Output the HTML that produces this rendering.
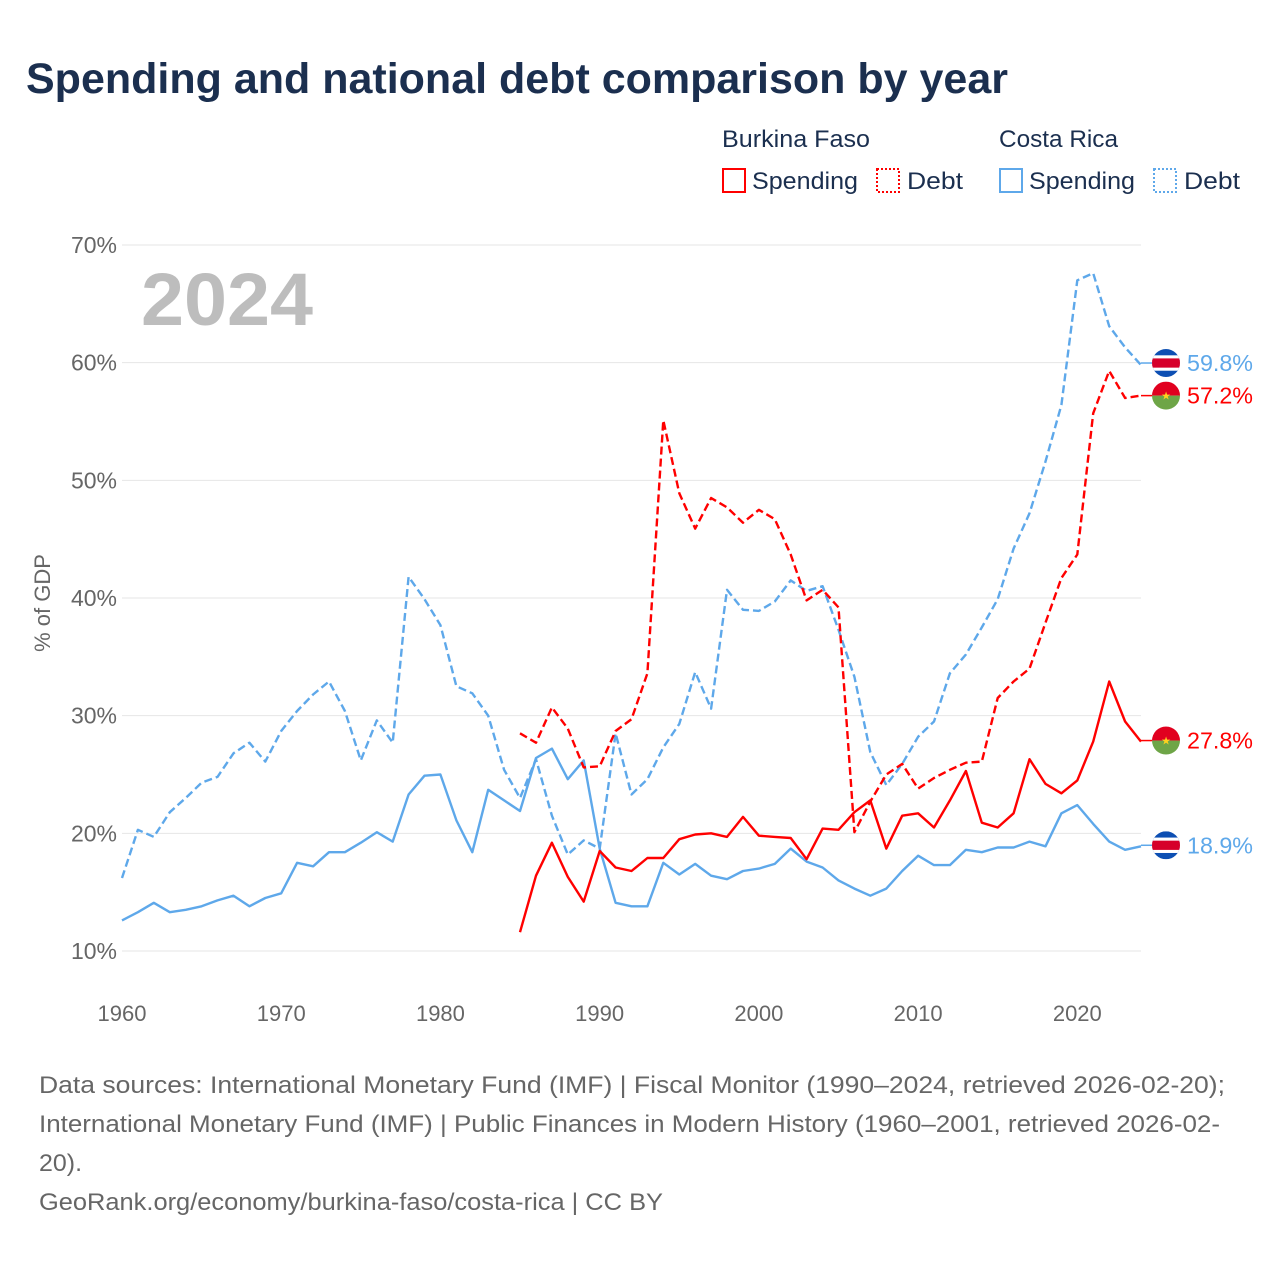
<!DOCTYPE html>
<html><head><meta charset="utf-8">
<style>
html,body{margin:0;padding:0;background:#fff;}
body{width:1280px;height:1280px;position:relative;overflow:hidden;font-family:"Liberation Sans",sans-serif;}
svg text{font-family:"Liberation Sans",sans-serif;}
</style></head>
<body>
<svg id="chart" width="1280" height="1280" viewBox="0 0 1280 1280" xmlns="http://www.w3.org/2000/svg">
  <text x="26" y="93" font-size="43" font-weight="bold" fill="#1b2f4f" textLength="982" lengthAdjust="spacingAndGlyphs">Spending and national debt comparison by year</text>
  <g font-size="24" fill="#1b2f4f">
    <text x="722" y="147" textLength="148" lengthAdjust="spacingAndGlyphs">Burkina Faso</text>
    <text x="999" y="147" textLength="119" lengthAdjust="spacingAndGlyphs">Costa Rica</text>
    <g>
      <rect x="723" y="169" width="22" height="23" fill="none" stroke="#ff0000" stroke-width="2"/>
      <text x="752" y="189" textLength="106" lengthAdjust="spacingAndGlyphs">Spending</text>
    </g>
    <g>
      <rect x="877" y="169" width="22" height="23" fill="none" stroke="#ff0000" stroke-width="2" stroke-dasharray="2,2"/>
      <text x="907" y="189" textLength="56" lengthAdjust="spacingAndGlyphs">Debt</text>
    </g>
    <g>
      <rect x="1000" y="169" width="22" height="23" fill="none" stroke="#5ea8ea" stroke-width="2"/>
      <text x="1029" y="189" textLength="106" lengthAdjust="spacingAndGlyphs">Spending</text>
    </g>
    <g>
      <rect x="1154" y="169" width="22" height="23" fill="none" stroke="#5ea8ea" stroke-width="2" stroke-dasharray="2,2"/>
      <text x="1184" y="189" textLength="56" lengthAdjust="spacingAndGlyphs">Debt</text>
    </g>
  </g>
  <g id="grid"></g>
  <g id="yticks" font-size="23" fill="#666" text-anchor="end"></g>
  <g id="xticks" font-size="22" fill="#666" text-anchor="middle"></g>
  <text transform="translate(50,603) rotate(-90)" font-size="22" fill="#666" text-anchor="middle">% of GDP</text>
  <text x="141" y="325" font-size="74" font-weight="bold" fill="#bdbdbd" textLength="172" lengthAdjust="spacingAndGlyphs">2024</text>
  <g id="series"></g>
  <g id="endlabels"></g>
  <g font-size="24" fill="#666">
    <text x="39" y="1093" textLength="1186" lengthAdjust="spacingAndGlyphs">Data sources: International Monetary Fund (IMF) | Fiscal Monitor (1990–2024, retrieved 2026-02-20);</text>
    <text x="39" y="1132" textLength="1181" lengthAdjust="spacingAndGlyphs">International Monetary Fund (IMF) | Public Finances in Modern History (1960–2001, retrieved 2026-02-</text>
    <text x="39" y="1171" textLength="43" lengthAdjust="spacingAndGlyphs">20).</text>
    <text x="39" y="1210" textLength="624" lengthAdjust="spacingAndGlyphs">GeoRank.org/economy/burkina-faso/costa-rica | CC BY</text>
  </g>
</svg>
<script>
const yTicks = [10, 20, 30, 40, 50, 60, 70];
const xTicks = [1960, 1970, 1980, 1990, 2000, 2010, 2020];
const crStart = 1960;
const crSpending = [12.6,13.3,14.1,13.3,13.5,13.8,14.3,14.7,13.8,14.5,14.9,17.5,17.2,18.4,18.4,19.2,20.1,19.3,23.3,24.9,25.0,21.1,18.4,23.7,22.8,21.9,26.4,27.2,24.6,26.2,18.7,14.1,13.8,13.8,17.5,16.5,17.4,16.4,16.1,16.8,17.0,17.4,18.7,17.6,17.1,16.0,15.3,14.7,15.3,16.8,18.1,17.3,17.3,18.6,18.4,18.8,18.8,19.3,18.9,21.7,22.4,20.8,19.3,18.6,18.9];
const crDebt = [16.2,20.3,19.7,21.8,23.0,24.3,24.8,26.8,27.7,26.1,28.7,30.4,31.8,32.9,30.4,26.2,29.6,27.7,41.8,39.9,37.7,32.5,31.9,30.0,25.4,23.0,26.3,21.5,18.2,19.4,18.7,28.5,23.3,24.6,27.3,29.3,33.7,30.6,40.7,39.0,38.9,39.7,41.5,40.6,41.0,37.3,33.3,26.9,24.1,25.9,28.2,29.5,33.6,35.2,37.5,39.9,44.2,47.2,51.6,56.4,67.0,67.6,63.1,61.3,59.8];
const bfStart = 1985;
const bfSpending = [11.6,16.4,19.2,16.3,14.2,18.5,17.1,16.8,17.9,17.9,19.5,19.9,20.0,19.7,21.4,19.8,19.7,19.6,17.8,20.4,20.3,21.8,22.8,18.7,21.5,21.7,20.5,22.8,25.3,20.9,20.5,21.7,26.3,24.2,23.4,24.5,27.8,32.9,29.5,27.8];
const bfDebt = [28.5,27.7,30.7,28.9,25.6,25.7,28.7,29.7,33.6,55.1,48.9,45.9,48.5,47.7,46.4,47.5,46.7,43.7,39.8,40.7,39.2,20.1,22.7,25.0,25.9,23.8,24.7,25.4,26.0,26.1,31.5,32.9,34.0,37.9,41.7,43.7,55.7,59.3,57.0,57.2];
const endLabels = ["59.8%", "57.2%", "27.8%", "18.9%"];

const NS = "http://www.w3.org/2000/svg";
const X0 = 122, X1 = 1141, Y10 = 951, Y70 = 245;
function xScale(yr){ return X0 + (yr - 1960) * (X1 - X0) / 64; }
function yScale(v){ return Y10 - (v - 10) * (Y10 - Y70) / 60; }
function mk(tag, attrs, parent){ const e = document.createElementNS(NS, tag); for (const k in attrs) e.setAttribute(k, attrs[k]); parent.appendChild(e); return e; }

const grid = document.getElementById('grid');
const yt = document.getElementById('yticks');
yTicks.forEach(t => {
  const l = mk('line', {x1: X0, x2: X1, y1: yScale(t), y2: yScale(t), stroke: '#e6e6e6', 'stroke-width': 1}, grid);
  
  
  const tx = mk('text', {x: 117, y: yScale(t) + 8}, yt);
  tx.textContent = t + '%';
  
  
});
const xt = document.getElementById('xticks');
xTicks.forEach(t => {
  const tx = mk('text', {x: xScale(t), y: 1021}, xt);
  tx.textContent = t;
  
  
});

const sg = document.getElementById('series');
function drawLine(vals, start, color, dashed, name){
  const pts = vals.map((v, i) => xScale(start + i).toFixed(1) + ',' + yScale(v).toFixed(1)).join(' ');
  const attrs = {points: pts, fill: 'none', stroke: color, 'stroke-width': 2.4, 'stroke-linejoin': 'round'};
  if (dashed) attrs['stroke-dasharray'] = '8,4';
  const p = mk('polyline', attrs, sg);
  
  
}
drawLine(crDebt, crStart, '#5ea8ea', true, 'line-costa-rica-debt');
drawLine(crSpending, crStart, '#5ea8ea', false, 'line-costa-rica-spending');
drawLine(bfDebt, bfStart, '#ff0000', true, 'line-burkina-faso-debt');
drawLine(bfSpending, bfStart, '#ff0000', false, 'line-burkina-faso-spending');

const eg = document.getElementById('endlabels');
let clipId = 0;
function flag(cy, kind, label, color, name){
  const g = mk('g', {}, eg);
  
  
  const cx = 1166, r = 14;
  const id = 'clip' + (clipId++);
  const cp = mk('clipPath', {id: id}, g);
  mk('circle', {cx: cx, cy: cy, r: r}, cp);
  mk('line', {x1: 1141, x2: cx - r, y1: cy, y2: cy, stroke: color, 'stroke-width': 1.5}, g);
  const fg = mk('g', {'clip-path': 'url(#' + id + ')'}, g);
  if (kind === 'cr') {
    mk('rect', {x: cx - r, y: cy - r, width: 2 * r, height: 2 * r, fill: '#0d4fb3'}, fg);
    mk('rect', {x: cx - r, y: cy - r * 0.55, width: 2 * r, height: r * 1.1, fill: '#ffffff'}, fg);
    mk('rect', {x: cx - r, y: cy - r * 0.33, width: 2 * r, height: r * 0.66, fill: '#d6002a'}, fg);
  } else {
    mk('rect', {x: cx - r, y: cy - r, width: 2 * r, height: r, fill: '#e1001f'}, fg);
    mk('rect', {x: cx - r, y: cy, width: 2 * r, height: r, fill: '#6ea547'}, fg);
    const s = mk('text', {x: cx, y: cy + 4, 'font-size': 11, fill: '#ffd21f', 'text-anchor': 'middle'}, g);
    s.textContent = '★';
  }
  const t = mk('text', {x: 1187, y: cy + 8, 'font-size': 23, fill: color, textLength: 66, lengthAdjust: 'spacingAndGlyphs'}, g);
  t.textContent = label;
}
flag(yScale(crDebt[crDebt.length - 1]) - 2, 'cr', endLabels[0], '#5ea8ea', 'end-label-cr-debt');
flag(yScale(bfDebt[bfDebt.length - 1]), 'bf', endLabels[1], '#ff0000', 'end-label-bf-debt');
flag(yScale(bfSpending[bfSpending.length - 1]) - 1, 'bf', endLabels[2], '#ff0000', 'end-label-bf-spending');
flag(yScale(crSpending[crSpending.length - 1]) - 1, 'cr', endLabels[3], '#5ea8ea', 'end-label-cr-spending');
</script>
</body></html>
